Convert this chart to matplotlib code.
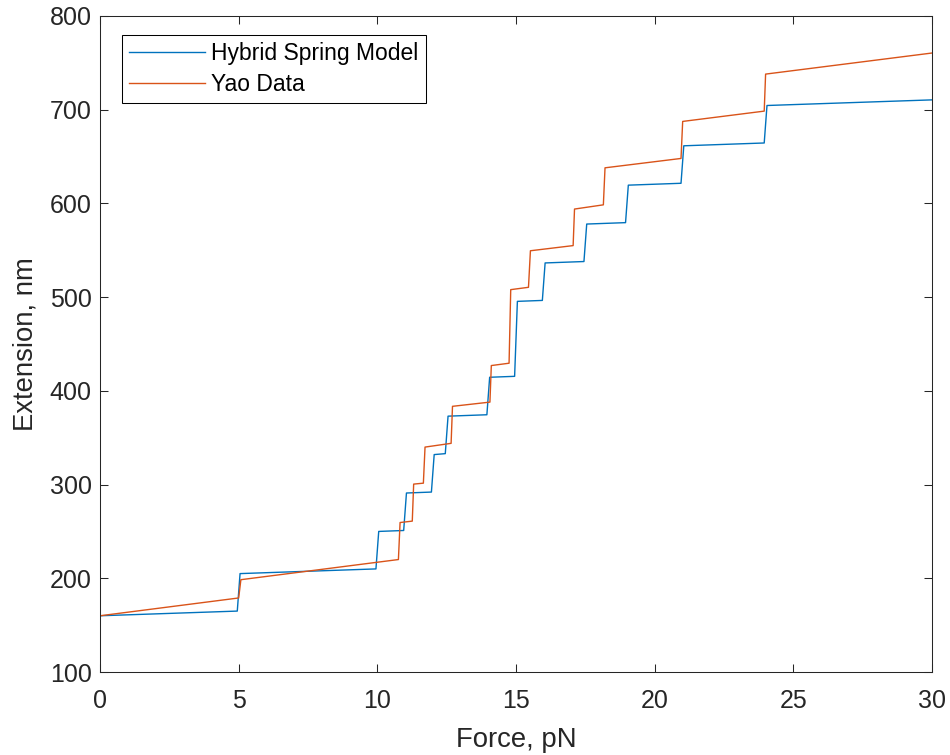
import matplotlib
matplotlib.use("Agg")
import matplotlib.pyplot as plt

# ─── Daten ────────────────────────────────────────────────────────────────────
force_model = [0, 4.95, 5.05, 9.95, 10.05, 10.95, 11.05, 11.95, 12.05, 12.45,
               12.55, 13.95, 14.05, 14.95, 15.05, 15.95, 16.05, 17.45, 17.55,
               18.95, 19.05, 20.95, 21.05, 23.95, 24.05, 30]
ext_model = [160, 165, 205, 210, 250, 251, 291, 292, 332, 333,
             373, 374.5, 414.5, 415.5, 495.5, 496.5, 536.5, 538, 578,
             579.5, 619.5, 621.5, 661.5, 664.5, 704.5, 710.5]

force_yao = [0, 5.0, 5.08, 10.76, 10.82, 11.26, 11.31, 11.66, 11.72, 12.66,
             12.71, 14.06, 14.11, 14.75, 14.81, 15.45, 15.52, 17.06, 17.11,
             18.15, 18.21, 20.95, 21.01, 23.95, 24.0, 30]
ext_yao = [160, 179, 198.5, 220, 259.5, 261, 300.5, 301.5, 340, 344,
           383.5, 388, 427, 429.5, 508, 510.5, 549.5, 555, 594,
           598.5, 638, 648, 687.5, 698.5, 738, 760.5]

labels = ["Hybrid Spring Model", "Yao Data"]
x_ticks = [0, 5, 10, 15, 20, 25, 30]
y_ticks = [100, 200, 300, 400, 500, 600, 700, 800]

# ─── Stil ─────────────────────────────────────────────────────────────────────
plt.rcParams["font.family"] = ["Liberation Sans", "DejaVu Sans"]
TXT = "#262626"

fig = plt.figure(figsize=(9.5, 7.55), dpi=100)
ax = fig.add_axes([100 / 950, 83 / 755, 832 / 950, 656 / 755])

ax.plot(force_model, ext_model, color="#0072BD", linewidth=1.0, label=labels[0])
ax.plot(force_yao, ext_yao, color="#D95319", linewidth=1.0, label=labels[1])

ax.set_xlim(0, 30)
ax.set_ylim(100, 800)
ax.set_xticks(x_ticks)
ax.set_yticks(y_ticks)
ax.tick_params(direction="in", length=6, width=0.75, top=True, right=True,
               labelsize=18, colors=TXT, pad=6)
ax.tick_params(axis="x", pad=12)
for sp in ax.spines.values():
    sp.set_color(TXT)
    sp.set_linewidth(0.75)

ax.set_xlabel("Force, pN", fontsize=19.8, color=TXT, labelpad=10)
ax.set_ylabel("Extension, nm", fontsize=19.8, color=TXT, labelpad=8)

leg = ax.legend(loc="upper left", bbox_to_anchor=(22 / 832, 637 / 656),
                borderaxespad=0, fontsize=16.5, fancybox=False,
                edgecolor="black", framealpha=1, handlelength=3.3,
                handletextpad=0.3, labelspacing=0.34, borderpad=0.3)
leg.get_frame().set_linewidth(0.75)
for t in leg.get_texts():
    t.set_color("black")

plt.savefig("out.png", dpi=100)
plt.close()
